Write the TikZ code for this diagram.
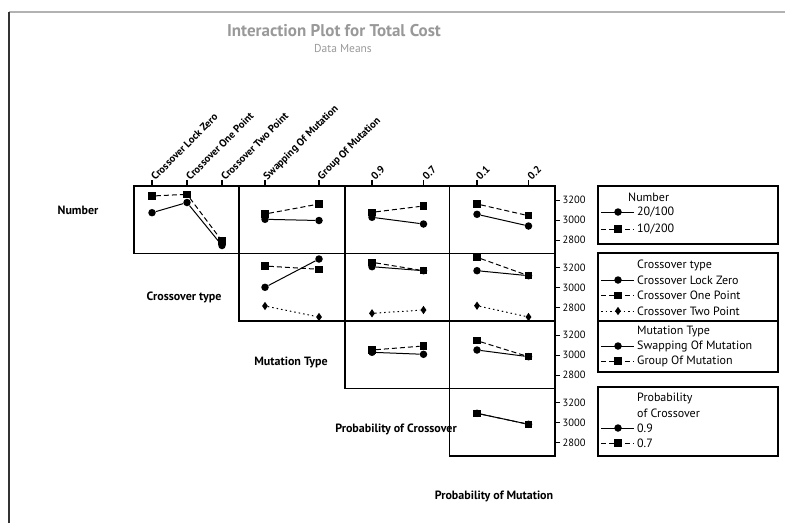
\documentclass[tikz,border=0pt]{standalone}
\usepackage{fontspec}
\setmainfont{PT Sans}
\usetikzlibrary{shapes.geometric}
\begin{document}
\begin{tikzpicture}[x=1pt,y=-1pt,
  panel/.style={draw,line width=1.2pt},
  series1/.style={line width=1pt},
  series2/.style={line width=1pt,dash pattern=on 5pt off 3pt},
  series3/.style={line width=1pt,dash pattern=on 1.5pt off 3pt},
  mk1/.style={circle,fill=black,inner sep=0pt,minimum size=7.5pt},
  mk2/.style={rectangle,fill=black,inner sep=0pt,minimum size=7.5pt},
  mk3/.style={diamond,fill=black,inner sep=0pt,minimum width=6pt,minimum height=8.5pt},
  toplab/.style={rotate=45,anchor=west,inner sep=1pt,font=\fontsize{10.5}{11}\selectfont\bfseries},
  ticklab/.style={anchor=west,inner sep=0pt,font=\fontsize{10.5}{11}\selectfont},
  rowlab/.style={inner sep=0pt,font=\fontsize{12}{13}\selectfont\bfseries},
  legtext/.style={anchor=west,inner sep=0pt,font=\fontsize{12}{13}\selectfont},
  legbox/.style={draw,line width=1.2pt},
]
\useasboundingbox (0,0) rectangle (785,523);

% page frame
\draw[gray!60,line width=1.3pt] (9,12) -- (785,12);
\draw[black!80,line width=1.3pt] (9,523) -- (9,12);

% titles
\node[font=\fontsize{17}{18}\selectfont\bfseries,text=gray!80] (title) at (334,31) {Interaction Plot for Total Cost};
\node[font=\fontsize{11.5}{12}\selectfont,text=gray!80] (subtitle) at (343,48) {Data Means};

% panel grid
\draw[panel] (134,186) rectangle (555,253.5);
\draw[panel] (239,186) -- (239,321);
\draw[panel] (345,186) -- (345,388.5);
\draw[panel] (449.5,186) -- (449.5,456);
\draw[panel] (239,253.5) rectangle (555,321);
\draw[panel] (345,321) rectangle (555,388.5);
\draw[panel] (449.5,388.5) rectangle (555,456);

% top level ticks and labels
\foreach \xx/\lab in {152/Crossover Lock Zero,187/Crossover One Point,222/Crossover Two Point,
  265/Swapping Of Mutation,319/Group Of Mutation,372/0.9,423.5/0.7,477/0.1,528.5/0.2}{
  \draw[line width=1.1pt] (\xx,186) -- (\xx,180);
  \node[toplab] at (\xx,179) {\lab};
}

% right response axis, one per row
\foreach \tp in {186,253.5,321,388.5}{
  \foreach \dy/\val in {14/3200,34/3000,54/2800}{
    \draw[line width=1pt] (555,\tp+\dy) -- (560,\tp+\dy);
    \node[ticklab] at (562.5,\tp+\dy) {\val};
  }
}

% row labels
\node[rowlab] (labA) at (78,210) {Number};
\node[rowlab] (labB) at (184,297) {Crossover type};
\node[rowlab] (labC) at (291,362) {Mutation Type};
\node[rowlab] (labD) at (396,429) {Probability of Crossover};
\node[rowlab] (labE) at (494,496) {Probability of Mutation};

% ---- Number x Crossover type
\node[mk1] (a11) at (152,212.7) {}; \node[mk1] (a12) at (187,202.5) {}; \node[mk1] (a13) at (222,245.5) {};
\node[mk2] (a21) at (152,196) {};   \node[mk2] (a22) at (187,194.3) {}; \node[mk2] (a23) at (222,241) {};
\draw[series1] (a11) -- (a12) -- (a13);
\draw[series2] (a21) -- (a22) -- (a23);
% ---- Number x Mutation Type
\node[mk1] (b11) at (265,219.3) {}; \node[mk1] (b12) at (319,220.5) {};
\node[mk2] (b21) at (265,214) {};   \node[mk2] (b22) at (319,204) {};
\draw[series1] (b11) -- (b12);
\draw[series2] (b21) -- (b22);
% ---- Number x Probability of Crossover
\node[mk1] (c11) at (372,217.3) {}; \node[mk1] (c12) at (423.5,224) {};
\node[mk2] (c21) at (372,212.3) {}; \node[mk2] (c22) at (423.5,206) {};
\draw[series1] (c11) -- (c12);
\draw[series2] (c21) -- (c22);
% ---- Number x Probability of Mutation
\node[mk1] (d11) at (477,214.3) {}; \node[mk1] (d12) at (528.5,226) {};
\node[mk2] (d21) at (477,204) {};   \node[mk2] (d22) at (528.5,215.7) {};
\draw[series1] (d11) -- (d12);
\draw[series2] (d21) -- (d22);

% ---- Crossover type x Mutation Type
\node[mk1] (e11) at (265,287.3) {}; \node[mk1] (e12) at (319,259) {};
\node[mk2] (e21) at (265,266) {};   \node[mk2] (e22) at (319,269.3) {};
\node[mk3] (e31) at (265,306) {};   \node[mk3] (e32) at (319,317) {};
\draw[series1] (e11) -- (e12);
\draw[series2] (e21) -- (e22);
\draw[series3] (e31) -- (e32);
% ---- Crossover type x Probability of Crossover
\node[mk1] (f11) at (372,266.7) {}; \node[mk1] (f12) at (423.5,270.7) {};
\node[mk2] (f21) at (372,262.3) {}; \node[mk2] (f22) at (423.5,270.7) {};
\node[mk3] (f31) at (372,313.3) {}; \node[mk3] (f32) at (423.5,310) {};
\draw[series1] (f11) -- (f12);
\draw[series2] (f21) -- (f22);
\draw[series3] (f31) -- (f32);
% ---- Crossover type x Probability of Mutation
\node[mk1] (g11) at (477,270.7) {}; \node[mk1] (g12) at (528.5,275.7) {};
\node[mk2] (g21) at (477,257.3) {}; \node[mk2] (g22) at (528.5,275.7) {};
\node[mk3] (g31) at (477,305.7) {}; \node[mk3] (g32) at (528.5,317) {};
\draw[series1] (g11) -- (g12);
\draw[series2] (g21) -- (g22);
\draw[series3] (g31) -- (g32);

% ---- Mutation Type x Probability of Crossover
\node[mk1] (h11) at (372,352.3) {}; \node[mk1] (h12) at (423.5,354.3) {};
\node[mk2] (h21) at (372,350) {};   \node[mk2] (h22) at (423.5,346) {};
\draw[series1] (h11) -- (h12);
\draw[series2] (h21) -- (h22);
% ---- Mutation Type x Probability of Mutation
\node[mk1] (i11) at (477,350) {};   \node[mk1] (i12) at (528.5,356.7) {};
\node[mk2] (i21) at (477,340.7) {}; \node[mk2] (i22) at (528.5,356.7) {};
\draw[series1] (i11) -- (i12);
\draw[series2] (i21) -- (i22);

% ---- Probability of Crossover x Probability of Mutation
\node[mk1] (j11) at (477,413.3) {}; \node[mk1] (j12) at (528.5,424.3) {};
\node[mk2] (j21) at (477,413.3) {}; \node[mk2] (j22) at (528.5,424.3) {};
\draw[series1] (j11) -- (j12);
\draw[series2] (j21) -- (j22);

% ---- legends
\def\lx{598}
\def\rx{778}
\draw[legbox] (\lx,186) rectangle (\rx,244);
\draw[legbox] (\lx,253) rectangle (\rx,321);
\draw[legbox] (\lx,321) rectangle (\rx,372);
\draw[legbox] (\lx,387) rectangle (\rx,456);

\node[legtext] (ltA) at (\lx+30,197) {Number};
\node[legtext] (ltB) at (\lx+39,265) {Crossover type};
\node[legtext] (ltC) at (\lx+39,331) {Mutation Type};
\node[legtext] (ltD) at (\lx+39,398) {Probability};
\node[legtext] (ltD2) at (\lx+39,413) {of Crossover};

\foreach \yy/\mk/\ls/\txt/\nm in {
  212/mk1/series1/20\slash100/nA1, 229/mk2/series2/10\slash200/nA2,
  280/mk1/series1/Crossover Lock Zero/nB1, 295.5/mk2/series2/Crossover One Point/nB2,
  311/mk3/series3/Crossover Two Point/nB3,
  346/mk1/series1/Swapping Of Mutation/nC1, 361/mk2/series2/Group Of Mutation/nC2,
  428/mk1/series1/0.9/nD1, 443/mk2/series2/0.7/nD2}{
  \coordinate (\nm-l) at (\lx+3,\yy);
  \coordinate (\nm-r) at (\lx+36,\yy);
  \draw[\ls] (\nm-l) -- (\nm-r);
  \node[\mk] (\nm-m) at (\lx+20,\yy) {};
  \node[legtext] (\nm-t) at (\lx+39,\yy) {\txt};
}
\end{tikzpicture}
\end{document}
